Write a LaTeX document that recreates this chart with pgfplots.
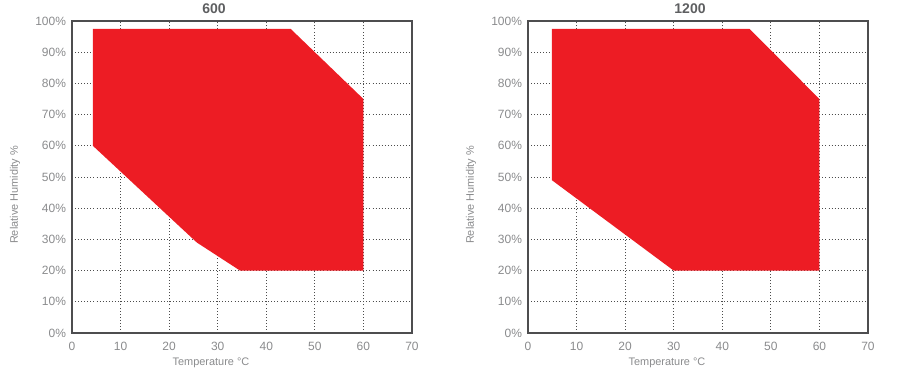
\documentclass[border=0pt]{standalone}
\usepackage{pgfplots}
\pgfplotsset{compat=1.18}
\usepackage{fontspec}
\setmainfont{Liberation Sans}
\definecolor{zonered}{HTML}{ED1C24}
\definecolor{txtgray}{HTML}{8A8B8D}
\definecolor{titlegray}{HTML}{5E5F61}
\definecolor{framegray}{HTML}{4D4D4F}
\pgfplotsset{
  chamber/.style={
    scale only axis,
    width=255pt, height=234pt,
    xmin=0, xmax=70, ymin=0, ymax=100,
    xtick={0,10,...,70}, ytick={0,10,...,100},
    yticklabel={\pgfmathprintnumber{\tick}\%},
    /pgf/number format/assume math mode=true,
    tick label style={font=\fontsize{9}{10}\selectfont, text=txtgray},
    major tick length=0pt,
    xticklabel style={yshift=-3pt},
    yticklabel style={xshift=-1pt},
    grid=major,
    major grid style={dash pattern=on 0.7pt off 1.6pt, color=black!70, line width=0.7pt},
    axis line style={framegray, line width=0.8pt},
  }
}
\begin{document}
\begin{tikzpicture}
\useasboundingbox (0,0) rectangle (678pt,288pt);
\begin{axis}[chamber, at={(54pt,38.25pt)}, anchor=south west]
\addplot[fill=zonered, draw=none] coordinates {
 (4.3,97.5) (45,97.5) (60,75) (60,20) (34.6,20) (25.7,29) (4.3,60)
} -- cycle;
\end{axis}
\begin{axis}[chamber, at={(396pt,38.25pt)}, anchor=south west]
\addplot[fill=zonered, draw=none] coordinates {
 (4.9,97.5) (45.6,97.5) (60,75) (60,20) (30,20) (4.9,49)
} -- cycle;
\end{axis}
% titles
\node[font=\bfseries\fontsize{10.5}{12}\selectfont, text=titlegray] at (160.5pt,281.25pt) {600};
\node[font=\bfseries\fontsize{10.5}{12}\selectfont, text=titlegray] at (517.5pt,281.25pt) {1200};
% x labels
\node[font=\fontsize{8.2}{10}\selectfont, text=txtgray] at (158.25pt,15.75pt) {Temperature °C};
\node[font=\fontsize{8.2}{10}\selectfont, text=txtgray] at (500.25pt,15.75pt) {Temperature °C};
% y labels
\node[font=\fontsize{8.2}{10}\selectfont, text=txtgray, rotate=90] at (11.25pt,141.75pt) {Relative Humidity \%};
\node[font=\fontsize{8.2}{10}\selectfont, text=txtgray, rotate=90] at (353.25pt,141.75pt) {Relative Humidity \%};
\end{tikzpicture}
\end{document}
